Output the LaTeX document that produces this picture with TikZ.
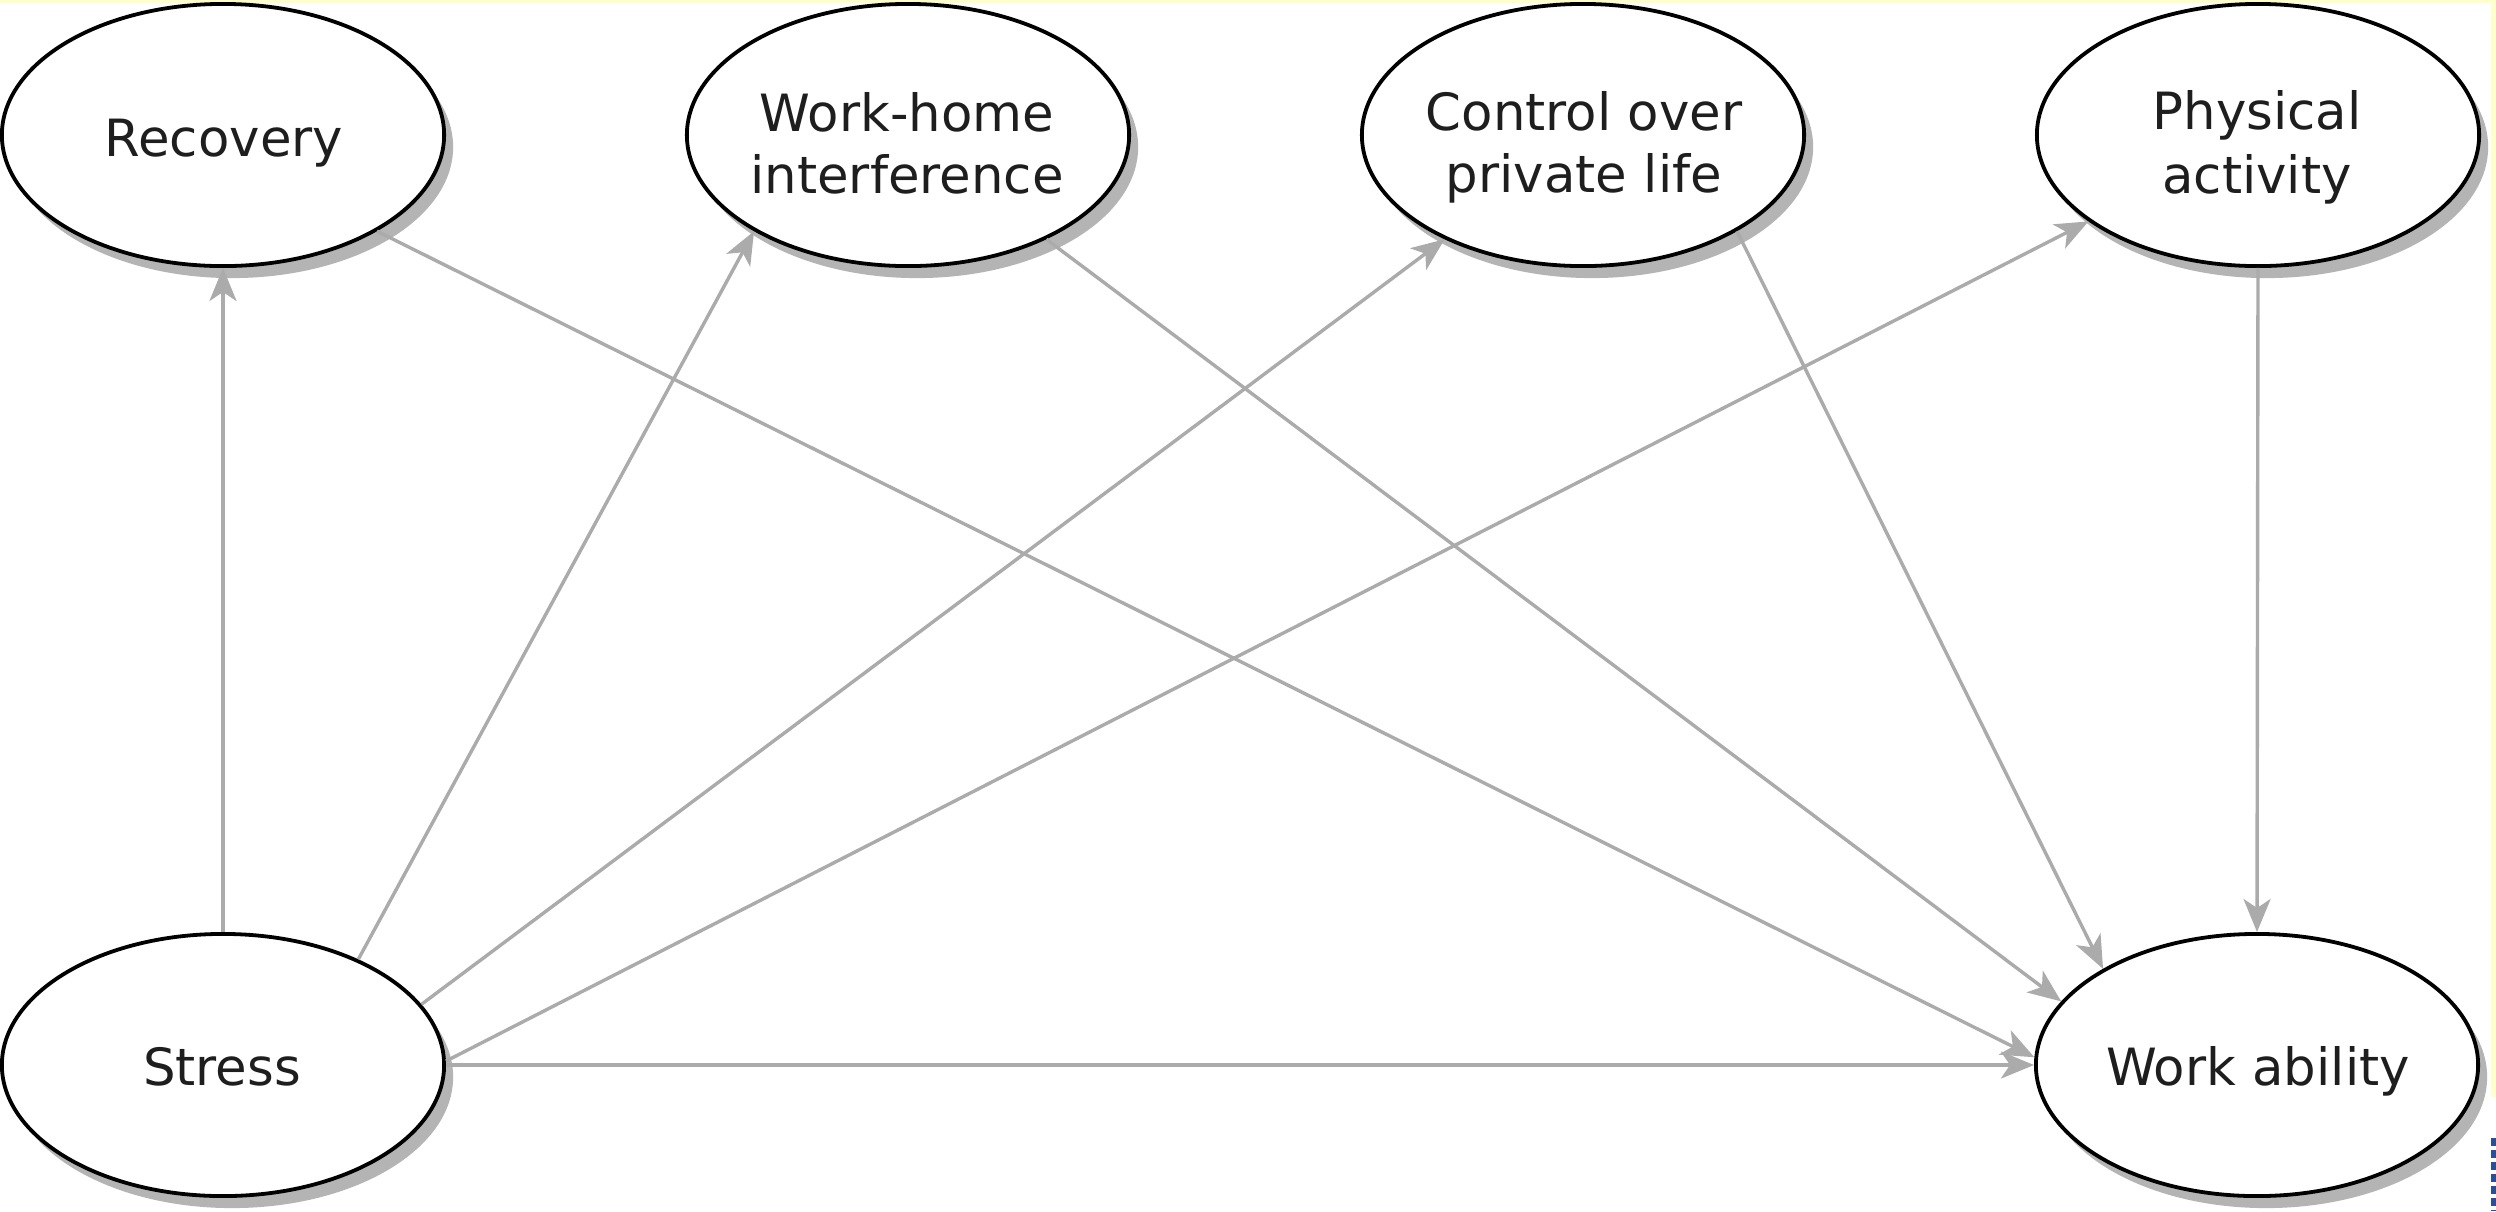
\documentclass[tikz,border=0pt]{standalone}
\usepackage{fontspec}
\setmainfont{DejaVu Sans}
\usetikzlibrary{shapes.geometric,arrows.meta,shadows}
\definecolor{edgegray}{HTML}{ABABAB}
\definecolor{shadowgray}{HTML}{B4B4B4}
\definecolor{bandyellow}{HTML}{FFFFCC}
\definecolor{txtcol}{HTML}{1E1E1E}
\definecolor{logoblue}{HTML}{2A4F9A}
\begin{document}
\begin{tikzpicture}[x=0.01cm,y=-0.01cm,
  var/.style={ellipse, draw=black, line width=0.038cm, fill=white,
    minimum width=4.42cm, minimum height=2.62cm, inner sep=0pt,
    drop shadow={shadow xshift=0.09cm, shadow yshift=-0.12cm, fill=shadowgray, opacity=1}},
  lbl/.style={anchor=base, inner sep=0pt, text=txtcol, font=\fontsize{14.6}{17.6}\selectfont},
  link/.style={draw=edgegray, line width=0.034cm, -{Stealth[length=0.33cm,width=0.27cm,inset=0.09cm]}}]
\useasboundingbox (0,0) rectangle (2496,1211);
\fill[white] (0,0) rectangle (2496,1211);
\fill[bandyellow] (0,0) rectangle (2496,3);
\fill[bandyellow] (2491,0) rectangle (2496,1097);
\draw[logoblue, line width=0.06cm, dash pattern=on 0.08cm off 0.04cm] (2494,1138) -- (2494,1211);

% ellipses
\node[var] (rec) at (223,135) {};
\node[var] (wh) at (908,135) {};
\node[var] (ctl) at (1583,135) {};
\node[var] (pa) at (2258,135) {};
\node[var] (st) at (223,1065) {};
\node[var] (wa) at (2257,1065) {};

% labels
\node[lbl] (recT) at (224,156) {Recovery};
\node[lbl] (whT1) at (907,131) {Work-home};
\node[lbl] (whT2) at (907,193) {interference};
\node[lbl] (ctlT1) at (1584,130) {Control over};
\node[lbl] (ctlT2) at (1584,192) {private life};
\node[lbl] (paT1) at (2257,129) {Physical};
\node[lbl] (paT2) at (2257,193) {activity};
\node[lbl] (stT) at (222,1085) {Stress};
\node[lbl] (waT) at (2258,1085) {Work ability};

% connectors
\draw[link] (st.90) -- (rec.270);
\draw[link] (st.38.8) -- (wh.212.8);
\draw[link] (st.17.2) -- (ctl.217);
\draw[link] (st.1.5) -- (pa.207.6);
\draw[link] (st.0) -- (wa.180);
\draw[link] (rec.328.5) -- (wa.178.7);
\draw[link] (wh.323.3) -- (wa.162.7);
\draw[link] (ctl.328.5) -- (wa.148.1);
\draw[link] (pa.270) -- (wa.90);
\end{tikzpicture}
\end{document}
